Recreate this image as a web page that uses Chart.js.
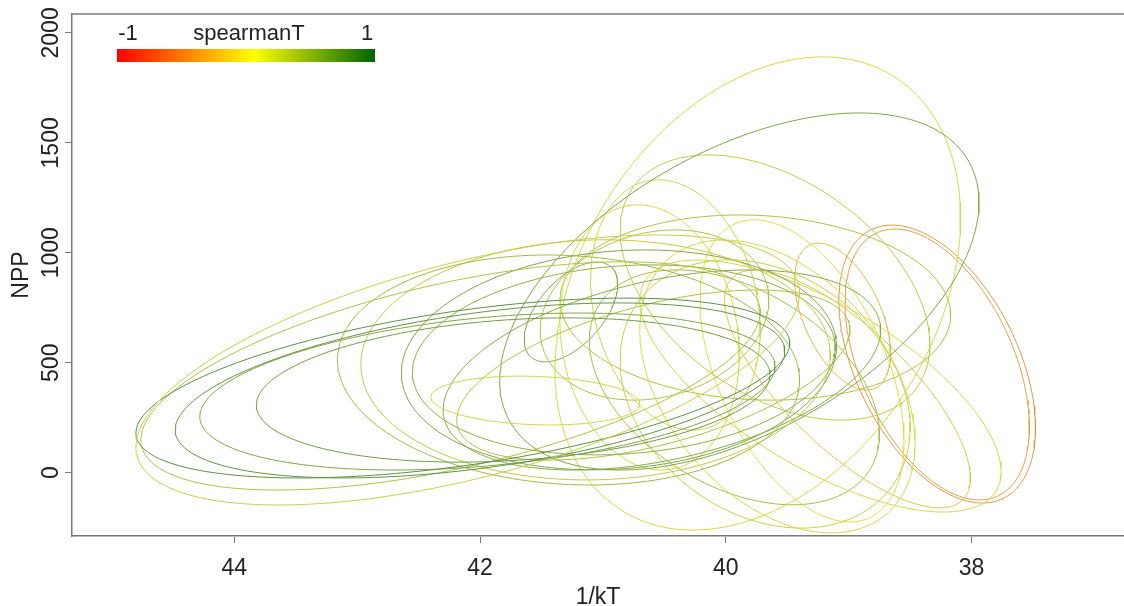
<!DOCTYPE html>
<html>
<head>
<meta charset="utf-8">
<script src="https://cdn.jsdelivr.net/npm/chart.js@4.4.1/dist/chart.umd.min.js"></script>
<style>
  html, body { margin: 0; padding: 0; background: #fff; }
  #wrap { width: 1124px; height: 606px; position: relative; }
</style>
</head>
<body>
<div id="wrap"><canvas id="c"></canvas></div>
<script>
// 축 범위와 눈금
const X_TICKS = [38, 40, 42, 44];
const Y_TICKS = [0, 500, 1000, 1500, 2000];
const X_MIN = 36.76, X_MAX = 45.32;
const Y_MIN = -288, Y_MAX = 2086;

// 타원 하나 = 한 지점: 중심(1/kT, NPP), 반폭, 반높이, 상관, spearmanT
const ELL_CX = [42.10, 42.14, 42.00, 41.94, 41.73, 42.24, 41.28, 41.06, 40.87, 40.83,
                41.55, 40.52, 40.59, 39.89, 39.74, 40.41, 39.60, 40.62, 40.58, 39.58,
                39.68, 39.38, 39.23, 38.28, 38.28, 39.05, 39.01, 39.76, 39.93, 41.26];
const ELL_CY = [467, 385, 374, 369, 376, 440, 467, 513, 513, 513,
                328, 467, 444, 824, 815, 763, 842, 615, 717, 392,
                358, 463, 394, 494, 492, 710, 381, 751, 388, 731];
const ELL_SX = [2.70, 2.66, 2.48, 2.34, 2.09, 2.52, 1.88, 1.91, 1.77, 1.72,
                0.85, 1.78, 1.60, 1.95, 1.65, 0.69, 1.26, 0.73, 0.93, 1.12,
                1.18, 0.83, 1.47, 0.80, 0.75, 0.39, 1.00, 1.59, 1.18, 0.38];
const ELL_SY = [614, 409, 398, 357, 328, 519, 523, 546, 500, 432,
                111, 455, 387, 812, 1076, 569, 603, 603, 387, 666,
                610, 687, 573, 632, 616, 334, 541, 421, 534, 227];
const ELL_R = [-0.57, -0.50, -0.45, -0.32, -0.21, -0.56, 0.09, -0.04, -0.12, -0.13,
               0.14, -0.40, -0.53, -0.50, -0.32, 0.20, 0.43, 0.13, -0.18, 0.39,
               0.25, 0.47, 0.68, 0.46, 0.46, 0.50, 0.75, 0.08, 0.40, -0.55];
const SPEARMAN_T = [0.15, 0.85, 0.80, 0.60, 0.70, 0.30, 0.40, 0.20, 0.60, 0.50,
                    0.10, 0.55, 0.30, 0.60, 0.05, 0.10, 0.20, 0.05, 0.30, 0.05,
                    0.15, 0.00, 0.05, -0.45, -0.40, -0.25, -0.15, 0.30, 0.35, 0.60];

const FONT = '"Liberation Sans", Arial, sans-serif';
const FRAME = "#7a7a7a";

// red -> yellow -> darkgreen; muted=true 이면 회색 쪽으로 섞어 선 색을 낮춤
function rampColor(v, muted) {
  let r, g;
  if (v < 0) { r = 255; g = 255 * (v + 1); }
  else { r = 255 * (1 - v); g = 255 - 155 * v; }
  let b = 0;
  if (muted) {
    const k = 0.6, grey = 172;
    r = r * k + grey * (1 - k); g = g * k + grey * (1 - k); b = grey * (1 - k);
  }
  return `rgb(${Math.round(r)}, ${Math.round(g)}, ${Math.round(b)})`;
}

// 타원 윤곽: x = cx + sx cos t, y = cy + sy cos(t - acos r)
function ellipsePoints(i) {
  const phi = Math.acos(ELL_R[i]);
  const pts = [];
  for (let k = 0; k <= 180; k++) {
    const t = (k / 180) * 2 * Math.PI;
    pts.push({ x: ELL_CX[i] + ELL_SX[i] * Math.cos(t), y: ELL_CY[i] + ELL_SY[i] * Math.cos(t - phi) });
  }
  return pts;
}

const datasets = ELL_CX.map((_, i) => ({
  data: ellipsePoints(i),
  showLine: true,
  pointRadius: 0,
  borderWidth: 1,
  borderColor: rampColor(SPEARMAN_T[i], true),
  tension: 0,
  fill: false,
}));

// 상단 테두리 + spearmanT 색 막대 범례
const framePlugin = {
  id: "frame",
  afterDraw(chart) {
    const { ctx, chartArea: ca } = chart;
    ctx.save();
    ctx.strokeStyle = FRAME;
    ctx.lineWidth = 1.5;
    ctx.beginPath();
    ctx.moveTo(ca.left, ca.top);
    ctx.lineTo(ca.right, ca.top);
    ctx.stroke();

    const x0 = ca.left + 45, x1 = ca.left + 303, y0 = ca.top + 35, h = 13;
    const grad = ctx.createLinearGradient(x0, 0, x1, 0);
    grad.addColorStop(0, rampColor(-1));
    grad.addColorStop(0.53, rampColor(0));
    grad.addColorStop(1, rampColor(1));
    ctx.fillStyle = grad;
    ctx.fillRect(x0, y0, x1 - x0, h);

    ctx.fillStyle = "#222";
    ctx.font = `22px ${FONT}`;
    ctx.textAlign = "center";
    ctx.textBaseline = "middle";
    ctx.fillText("-1", x0 + 11, ca.top + 20);
    ctx.fillText("spearmanT", x0 + 132, ca.top + 20);
    ctx.fillText("1", x1 - 8, ca.top + 20);
    ctx.restore();
  },
};

new Chart(document.getElementById("c"), {
  type: "scatter",
  data: { datasets },
  plugins: [framePlugin],
  options: {
    responsive: true,
    maintainAspectRatio: false,
    animation: false,
    layout: { padding: { top: 14, right: 0, bottom: 0, left: 0 } },
    plugins: { legend: { display: false }, tooltip: { enabled: false } },
    scales: {
      x: {
        type: "linear",
        reverse: true,
        min: X_MIN,
        max: X_MAX,
        afterBuildTicks: (s) => { s.ticks = X_TICKS.map((v) => ({ value: v })); },
        afterFit: (s) => { s.height = 70; },
        border: { display: true, color: FRAME, width: 1.5 },
        grid: { display: true, drawOnChartArea: false, drawTicks: true, tickLength: 7, color: FRAME },
        ticks: { color: "#222", font: { family: FONT, size: 23 }, padding: 12, maxRotation: 0,
                 callback: (v) => String(v) },
        title: { display: true, text: "1/kT", color: "#222", font: { family: FONT, size: 23 },
                 padding: { top: 0, bottom: -5 } },
      },
      y: {
        type: "linear",
        min: Y_MIN,
        max: Y_MAX,
        afterBuildTicks: (s) => { s.ticks = Y_TICKS.map((v) => ({ value: v })); },
        afterFit: (s) => { s.width = 72; },
        border: { display: true, color: FRAME, width: 1.5 },
        grid: { display: true, drawOnChartArea: false, drawTicks: true, tickLength: 7, color: FRAME },
        ticks: { color: "#222", font: { family: FONT, size: 23 }, padding: -12,
                 minRotation: 90, maxRotation: 90, crossAlign: "center",
                 callback: (v) => String(v) },
        title: { display: true, text: "NPP", color: "#222", font: { family: FONT, size: 23 },
                 padding: { top: 8, bottom: 0 } },
      },
    },
  },
});
</script>
</body>
</html>
